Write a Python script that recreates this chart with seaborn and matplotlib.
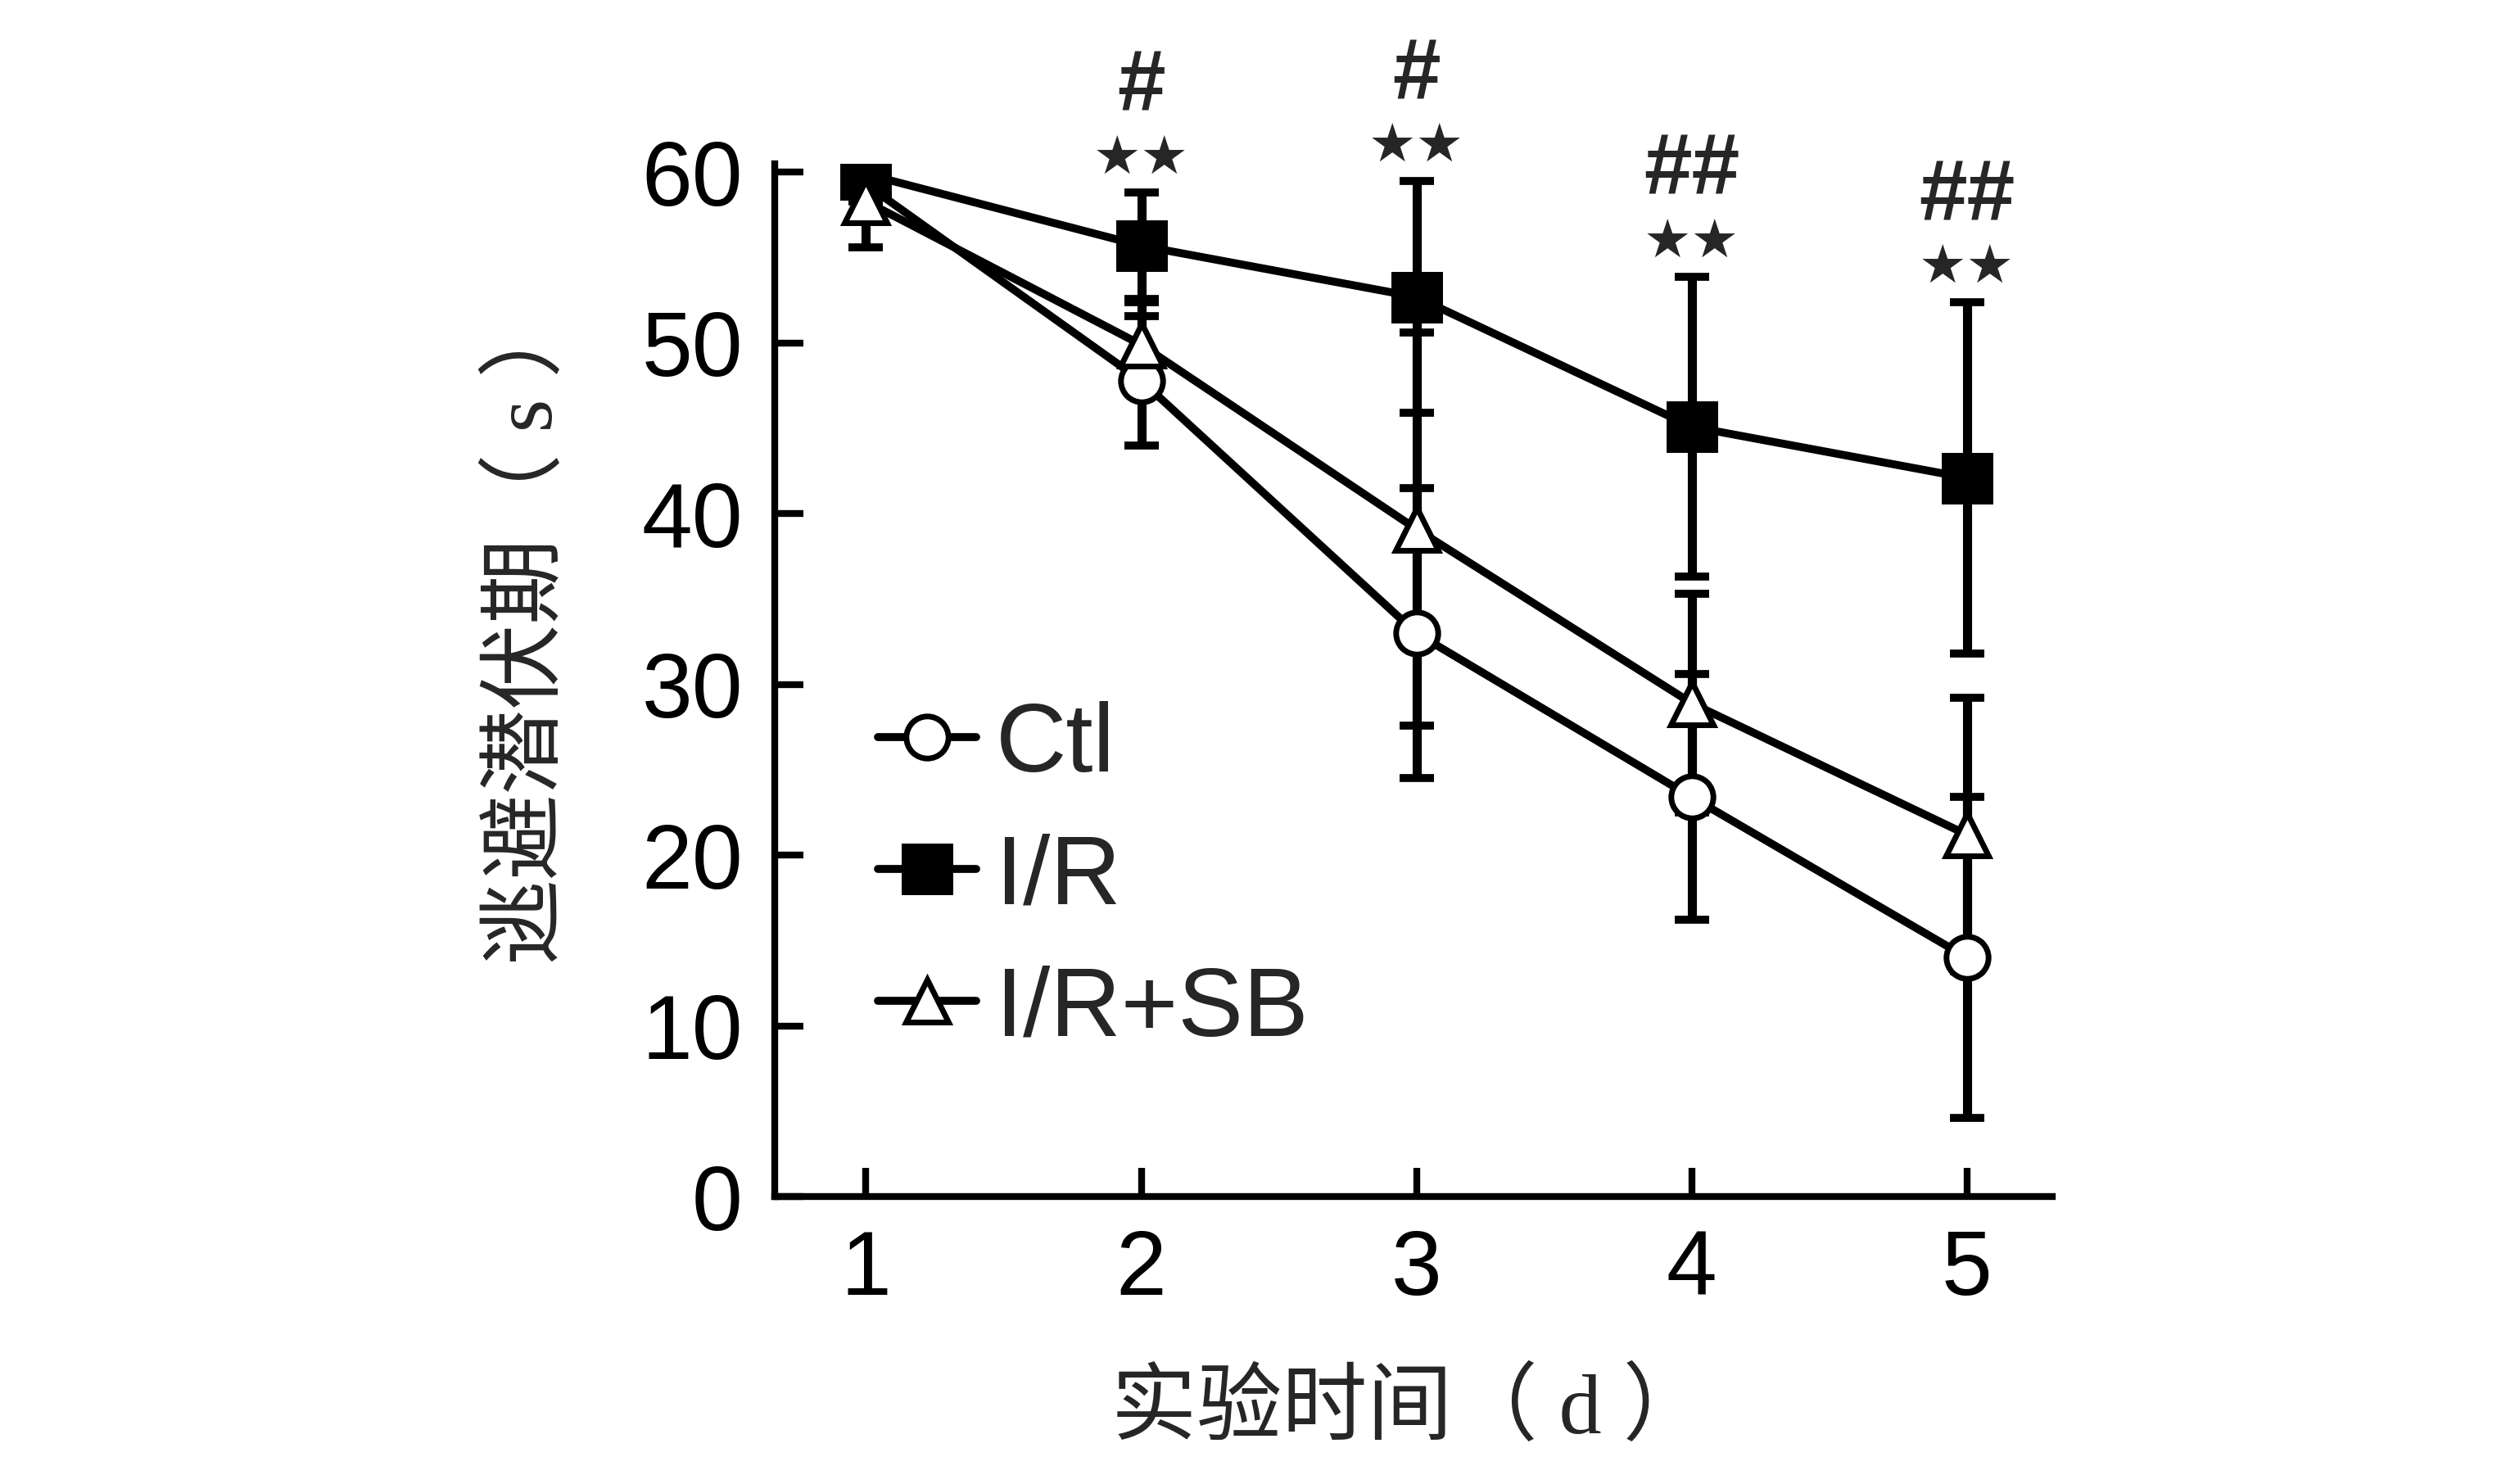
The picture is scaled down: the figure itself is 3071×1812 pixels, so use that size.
import numpy as np
import pandas as pd
import matplotlib
matplotlib.use("Agg")
import matplotlib.pyplot as plt
import seaborn as sns

# ---- data ----
days = [1, 2, 3, 4, 5]
groups = ["Ctl", "I/R", "I/R+SB"]

ctl_mean = [59.3, 47.8, 33.0, 23.4, 14.0]
ctl_err = [1.0, 3.8, 8.5, 7.2, 9.4]
ir_mean = [59.9, 55.7, 52.7, 45.1, 42.1]
ir_err = [0.5, 3.1, 6.8, 8.8, 10.3]
sb_mean = [58.3, 49.9, 39.1, 28.9, 21.2]
sb_err = [2.7, 2.5, 11.5, 6.4, 8.0]

# significance marks above the I/R error bars, days 2-5
mark_days = [2, 3, 4, 5]
star_marks = ["★★", "★★", "★★", "★★"]
hash_marks = ["#", "#", "##", "##"]

yticks = [0, 10, 20, 30, 40, 50, 60]
xlabel = "实验时间（ d ）"
ylabel = "逃避潜伏期（ s ）"

sns.set_theme(style="ticks")
plt.rcParams["font.family"] = ["Liberation Sans", "Noto Sans CJK SC", "DejaVu Sans"]
label_font = ["Liberation Serif", "Noto Sans CJK SC", "DejaVu Sans"]

fig = plt.figure(figsize=(30.71, 18.12), dpi=100)
ax = fig.add_axes([0.308, 0.1937, 0.508, 0.6959])

df = pd.DataFrame({
    "day": days * 3,
    "latency": ctl_mean + ir_mean + sb_mean,
    "err": ctl_err + ir_err + sb_err,
    "group": [g for g in groups for _ in days],
})

styles = {
    "Ctl": dict(marker="o", markersize=37, markerfacecolor="white"),
    "I/R": dict(marker="s", markersize=40, markerfacecolor="black"),
    "I/R+SB": dict(marker="^", markersize=38, markerfacecolor="white"),
}

for g in groups:
    sub = df[df["group"] == g]
    ax.errorbar(sub["day"], sub["latency"], yerr=sub["err"], fmt="none",
                ecolor="black", elinewidth=8, capsize=15, capthick=7, zorder=2)
    sns.lineplot(data=sub, x="day", y="latency", ax=ax, color="black",
                 linewidth=7, markeredgecolor="black", markeredgewidth=5,
                 errorbar=None, label=g, zorder=3, **styles[g])

# annotations relative to the top of the I/R bars
ir = df[df["group"] == "I/R"].set_index("day")
for d, s, h in zip(mark_days, star_marks, hash_marks):
    top = ir.loc[d, "latency"] + ir.loc[d, "err"]
    ax.text(d, top + 2.0, s, ha="center", va="center", fontsize=47,
            family="DejaVu Sans", clip_on=False)
    ax.text(d, top + 6.1, h, ha="center", va="center", fontsize=76,
            fontweight="bold", clip_on=False)

ax.set_xlim(0.668, 5.31)
ax.set_ylim(0, 60.5)
ax.set_xticks(days)
ax.set_yticks(yticks)
ax.tick_params(direction="in", length=25, width=6, labelsize=80, pad=28,
               color="black", labelcolor="black")
for side in ["left", "bottom"]:
    ax.spines[side].set_linewidth(6)
    ax.spines[side].set_color("black")
sns.despine(ax=ax)

ax.set_xlabel(xlabel, fontsize=75, family=label_font)
ax.set_ylabel(ylabel, fontsize=75, family=label_font)
ax.xaxis.set_label_coords(0.497, -0.168)
ax.yaxis.set_label_coords(-0.16, 0.55)

leg = ax.legend(loc="center left", bbox_to_anchor=(0.081, 0.308), frameon=False,
                fontsize=86, handlelength=1.0, handletextpad=0.2, borderpad=0,
                borderaxespad=0, labelspacing=0.42, numpoints=1)

fig.savefig("out.png", dpi=100, facecolor="white")
